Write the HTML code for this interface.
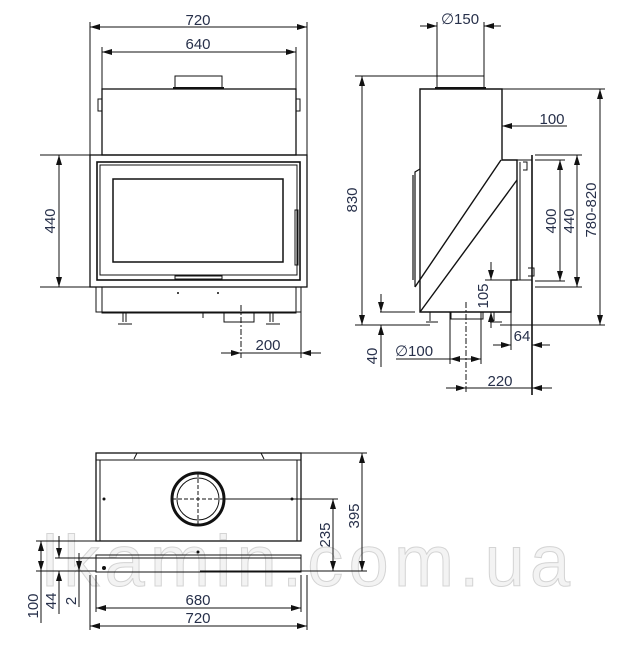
<!DOCTYPE html>
<html><head><meta charset="utf-8"><style>
html,body{margin:0;padding:0;background:#fff;}
svg{display:block;}
text{font-family:"Liberation Sans",sans-serif;fill:#27304a;font-size:15px;}
</style></head><body>
<svg width="629" height="645" viewBox="0 0 629 645" xmlns="http://www.w3.org/2000/svg">
<defs>
<marker id="a" viewBox="0 0 10 6" refX="10" refY="3" markerWidth="10" markerHeight="6" orient="auto-start-reverse" markerUnits="userSpaceOnUse"><path d="M0,0L10,3L0,6z" fill="#111"/></marker>
</defs>
<!-- watermark -->
<text x="42" y="586" textLength="528" lengthAdjust="spacing" style="font-size:72px;fill:#f3f3f3;stroke:#d4d4d4;stroke-width:1">lkamin.com.ua</text>

<g stroke="#111" fill="none" stroke-width="1">
<!-- FRONT VIEW -->
<line x1="90" y1="27" x2="307" y2="27" marker-start="url(#a)" marker-end="url(#a)"/>
<line x1="90" y1="22" x2="90" y2="155"/><line x1="307" y1="22" x2="307" y2="155"/>
<line x1="102" y1="52" x2="296" y2="52" marker-start="url(#a)" marker-end="url(#a)"/>
<line x1="102" y1="47" x2="102" y2="90"/><line x1="296" y1="47" x2="296" y2="90"/>
<rect x="102" y="89" width="194" height="66" stroke-width="1.3"/>
<rect x="175" y="76" width="47" height="13"/>
<line x1="173" y1="88" x2="224" y2="88" stroke-width="2"/>
<path d="M102,99h-4v12h4M296,99h4v12h-4"/>
<rect x="90" y="155" width="217" height="132" stroke-width="1.3"/>
<rect x="97" y="162" width="203" height="118" stroke-width="1.6"/>
<rect x="100" y="165" width="197" height="110"/>
<rect x="113" y="179" width="170" height="83" stroke-width="1.5"/>
<rect x="175" y="276" width="47" height="3"/>
<rect x="295" y="210" width="3" height="55"/>
<rect x="96" y="287" width="205" height="25"/>
<rect x="102" y="287" width="194" height="26"/>
<path d="M123,313v9M126,313v9M118,324h14M270,313v9M273,313v9M266,324h14"/>
<rect x="224" y="312" width="30" height="10"/>
<line x1="203" y1="313" x2="203" y2="318"/>
<line x1="40" y1="155" x2="90" y2="155"/><line x1="40" y1="287" x2="90" y2="287"/>
<line x1="59" y1="155" x2="59" y2="287" marker-start="url(#a)" marker-end="url(#a)"/>
<line x1="241" y1="305" x2="241" y2="358" stroke-dasharray="6,2,2,2"/>
<line x1="301" y1="312" x2="301" y2="358"/>
<line x1="221" y1="353" x2="241" y2="353" marker-end="url(#a)"/>
<line x1="301" y1="353" x2="321" y2="353" marker-start="url(#a)"/>
<line x1="241" y1="353" x2="301" y2="353"/>

<!-- SIDE VIEW -->
<line x1="420" y1="26" x2="437" y2="26" marker-end="url(#a)"/>
<line x1="484" y1="26" x2="501" y2="26" marker-start="url(#a)"/>
<line x1="437" y1="22" x2="437" y2="76"/><line x1="484" y1="22" x2="484" y2="76"/>
<rect x="437" y="76" width="47" height="13"/>
<path d="M420,89H502V160H517V280H511V312H420Z" stroke-width="1.4"/>
<line x1="435" y1="88" x2="486" y2="88" stroke-width="2"/>
<line x1="501" y1="160" x2="415" y2="287" stroke-width="1.4"/>
<line x1="517" y1="180" x2="420" y2="312" stroke-width="1.4"/>
<path d="M415,287V172l5,-3M413,280V175" stroke-width="1.2"/>
<path d="M517,160h15M520,162v118" />
<line x1="532" y1="155" x2="532" y2="395" stroke-width="1.6"/>
<path d="M511,280h21v32"/>
<path d="M523,162h4v8h-4M528,268h6v8h-6"/>
<path d="M430,312v9M426,322h12M494,312v9M490,322h12M451,312h32v7h-32z"/>
<line x1="355" y1="76" x2="437" y2="76"/><line x1="355" y1="325" x2="430" y2="325"/>
<line x1="362" y1="76" x2="362" y2="325" marker-start="url(#a)" marker-end="url(#a)"/>
<line x1="502" y1="89" x2="605" y2="89"/><line x1="500" y1="325" x2="605" y2="325"/>
<line x1="600" y1="89" x2="600" y2="325" marker-start="url(#a)" marker-end="url(#a)"/>
<line x1="535" y1="155" x2="582" y2="155"/><line x1="535" y1="287" x2="582" y2="287"/>
<line x1="577" y1="155" x2="577" y2="287" marker-start="url(#a)" marker-end="url(#a)"/>
<line x1="535" y1="160" x2="565" y2="160"/><line x1="535" y1="281" x2="565" y2="281"/>
<line x1="560" y1="160" x2="560" y2="281" marker-start="url(#a)" marker-end="url(#a)"/>
<line x1="502" y1="126" x2="532" y2="126" marker-start="url(#a)"/>
<line x1="532" y1="126" x2="567" y2="126"/>
<line x1="491" y1="262" x2="491" y2="280" marker-end="url(#a)"/>
<line x1="491" y1="312" x2="491" y2="328" marker-start="url(#a)"/>
<line x1="485" y1="280" x2="511" y2="280"/>
<line x1="380" y1="312" x2="415" y2="312"/>
<line x1="381" y1="294" x2="381" y2="312" marker-end="url(#a)"/>
<line x1="381" y1="325" x2="381" y2="367" marker-start="url(#a)"/>
<line x1="450" y1="312" x2="450" y2="364"/><line x1="481" y1="312" x2="481" y2="364"/>
<line x1="466" y1="302" x2="466" y2="392" stroke-dasharray="6,2,2,2"/>
<line x1="396" y1="359" x2="450" y2="359"/>
<line x1="450" y1="359" x2="481" y2="359" marker-start="url(#a)" marker-end="url(#a)"/>
<line x1="511" y1="312" x2="511" y2="350"/>
<line x1="493" y1="345" x2="511" y2="345" marker-end="url(#a)"/>
<line x1="532" y1="345" x2="550" y2="345" marker-start="url(#a)"/>
<line x1="446" y1="388" x2="466" y2="388" marker-end="url(#a)"/>
<line x1="466" y1="388" x2="532" y2="388"/>
<line x1="532" y1="388" x2="552" y2="388" marker-start="url(#a)"/>

<!-- TOP VIEW -->
<rect x="96" y="453" width="205" height="88" stroke-width="1.3"/>
<line x1="96" y1="460" x2="301" y2="460"/>
<path d="M134,459l3,-6h124l3,6" />
<line x1="100" y1="460" x2="100" y2="541"/><line x1="297" y1="460" x2="297" y2="541"/>
<circle cx="198" cy="499" r="26" stroke-width="3"/>
<circle cx="198" cy="499" r="21"/>
<line x1="198" y1="473" x2="198" y2="525" stroke-dasharray="4,2"/>
<line x1="172" y1="499" x2="224" y2="499" stroke-dasharray="4,2"/>
<line x1="224" y1="499" x2="338" y2="499"/>
<rect x="96" y="555" width="205" height="17"/>
<line x1="96" y1="558" x2="301" y2="558"/>
<line x1="301" y1="453" x2="367" y2="453"/>
<line x1="200" y1="571" x2="367" y2="571"/>
<line x1="362" y1="453" x2="362" y2="571" marker-start="url(#a)" marker-end="url(#a)"/>
<line x1="333" y1="499" x2="333" y2="571" marker-start="url(#a)" marker-end="url(#a)"/>
<line x1="36" y1="541" x2="96" y2="541"/><line x1="55" y1="558" x2="96" y2="558"/><line x1="36" y1="571" x2="96" y2="571"/>
<line x1="41" y1="541" x2="41" y2="571" marker-start="url(#a)" marker-end="url(#a)"/>
<line x1="41" y1="571" x2="41" y2="623"/>
<line x1="59" y1="536" x2="59" y2="558" marker-end="url(#a)"/>
<line x1="59" y1="571" x2="59" y2="614" marker-start="url(#a)"/>
<line x1="79" y1="553" x2="79" y2="571" marker-end="url(#a)"/>
<line x1="79" y1="571" x2="79" y2="607"/>
<line x1="96" y1="575" x2="96" y2="612"/><line x1="301" y1="575" x2="301" y2="612"/>
<line x1="96" y1="608" x2="301" y2="608" marker-start="url(#a)" marker-end="url(#a)"/>
<line x1="90" y1="575" x2="90" y2="630"/><line x1="307" y1="575" x2="307" y2="630"/>
<line x1="90" y1="626" x2="307" y2="626" marker-start="url(#a)" marker-end="url(#a)"/>
</g>
<g fill="#111">
<circle cx="104" cy="568" r="2"/><circle cx="198" cy="552" r="1.5"/><circle cx="104" cy="499" r="1.5"/><circle cx="292" cy="499" r="1.5"/>
<circle cx="178" cy="293" r="1"/><circle cx="218" cy="293" r="1"/>
</g>

<text x="198" y="25" text-anchor="middle">720</text>
<text x="198" y="49" text-anchor="middle">640</text>
<text transform="translate(55,221) rotate(-90)" text-anchor="middle">440</text>
<text x="268" y="350" text-anchor="middle">200</text>
<text x="460" y="24" text-anchor="middle">∅150</text>
<text transform="translate(357,200) rotate(-90)" text-anchor="middle">830</text>
<text transform="translate(596,210) rotate(-90)" text-anchor="middle">780-820</text>
<text transform="translate(574,221) rotate(-90)" text-anchor="middle">440</text>
<text transform="translate(556,221) rotate(-90)" text-anchor="middle">400</text>
<text x="552" y="124" text-anchor="middle">100</text>
<text transform="translate(488,296) rotate(-90)" text-anchor="middle">105</text>
<text transform="translate(377,356) rotate(-90)" text-anchor="middle">40</text>
<text x="414" y="356" text-anchor="middle">∅100</text>
<text x="522" y="341" text-anchor="middle">64</text>
<text x="500" y="386" text-anchor="middle">220</text>
<text transform="translate(359,516) rotate(-90)" text-anchor="middle">395</text>
<text transform="translate(330,535) rotate(-90)" text-anchor="middle">235</text>
<text x="198" y="605" text-anchor="middle">680</text>
<text x="198" y="623" text-anchor="middle">720</text>
<text transform="translate(38,606) rotate(-90)" text-anchor="middle">100</text>
<text transform="translate(56,601) rotate(-90)" text-anchor="middle">44</text>
<text transform="translate(76,601) rotate(-90)" text-anchor="middle">2</text>
</svg>
</body></html>
